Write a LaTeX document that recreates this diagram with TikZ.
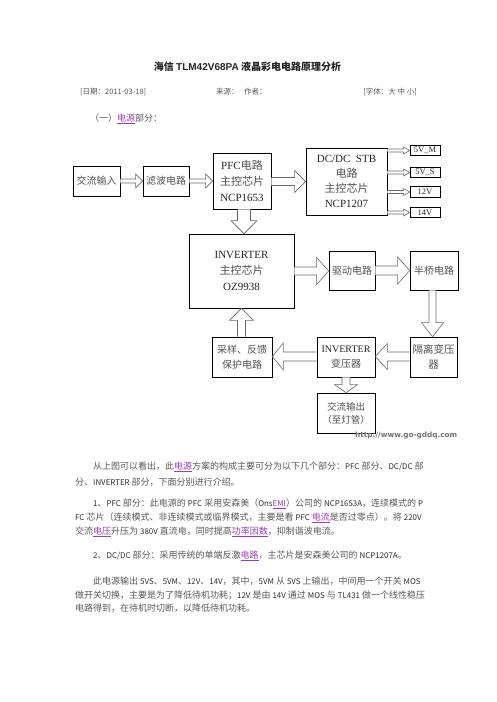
\documentclass[tikz,border=0pt]{standalone}
\usepackage{fontspec}
\setmainfont{Liberation Serif}
\newfontfamily\cjk{Noto Sans CJK SC}
\newfontfamily\arialf{Liberation Sans}
\newfontfamily\wmfont{DejaVu Sans}
\usetikzlibrary{calc}
\definecolor{txt}{HTML}{5A5A5A}
\definecolor{lnkc}{HTML}{9A3DB8}
\definecolor{arr}{HTML}{6A6A6A}
\newcommand\zh[1]{{\cjk\color{black!68}#1}}
\newcommand\lt[1]{{\fontsize{7.9}{9}\selectfont\color{black!82}#1}}
\newcommand\lnk[1]{{\color{lnkc}\underline{#1}}}
\newcommand\harrow[6]{%
 \coordinate (s) at (#1 |- 0,#3);
 \coordinate (t) at (#2 |- 0,#3);
 \draw[barrow] ($(s)+(0,-#4)$) -- ($(t)+({-(#6)},-#4)$) -- ($(t)+({-(#6)},-#5)$) -- (t) -- ($(t)+({-(#6)},#5)$) -- ($(t)+({-(#6)},#4)$) -- ($(s)+(0,#4)$);
}
\newcommand\varrow[6]{%
 \coordinate (s) at (#1 -| #3,0);
 \coordinate (t) at (#2 -| #3,0);
 \draw[barrow] ($(s)+(-#4,0)$) -- ($(t)+(-#4,{-(#6)})$) -- ($(t)+(-#5,{-(#6)})$) -- (t) -- ($(t)+(#5,{-(#6)})$) -- ($(t)+(#4,{-(#6)})$) -- ($(s)+(#4,0)$);
}
\tikzset{
 box/.style={draw=black, line width=0.7pt, inner sep=0pt, align=center, text=black!85},
 barrow/.style={draw=arr, line width=0.6pt, fill=white, line join=miter},
 body/.style={anchor=west, inner sep=0pt, font=\cjk\fontsize{9}{11}\selectfont, text=txt},
 small/.style={box, minimum width=30pt, minimum height=10.5pt, font=\fontsize{8.5}{9}\selectfont},
}
\begin{document}
\begin{tikzpicture}[x=1pt,y=-1pt]
\fill[white] (0,0) rectangle (496,702);
\useasboundingbox (0,0) rectangle (496,702);

% header
\node[font=\cjk\bfseries\fontsize{10}{12}\selectfont, text=black!85] (title) at (247.5,67) {海信 {\arialf\bfseries TLM42V68PA} 液晶彩电电路原理分析};
\node[anchor=west, inner sep=0pt, font=\cjk\fontsize{7.5}{9}\selectfont, text=txt] (date) at (80,92) {[日期：2011-03-18]};
\node[anchor=west, inner sep=0pt, font=\cjk\fontsize{7.5}{9}\selectfont, text=txt] (src) at (216,92) {来源：};
\node[anchor=west, inner sep=0pt, font=\cjk\fontsize{7.5}{9}\selectfont, text=txt] (auth) at (244,92) {作者：};
\node[anchor=east, inner sep=0pt, font=\cjk\fontsize{7.5}{9}\selectfont, text=txt] (fsz) at (417,92) {[字体：大 中 小]};
\node[body] (sec) at (90,119) {（一）\lnk{电源}部分：};

% diagram
\node[box, minimum width=47pt, minimum height=30pt, font=\fontsize{10}{12}\selectfont] (in) at (96.5,181) {\zh{交流输入}};
\node[box, minimum width=46pt, minimum height=30pt, font=\fontsize{10}{12}\selectfont] (flt) at (166,181) {\zh{滤波电路}};
\node[box, minimum width=58pt, minimum height=56pt, font=\fontsize{11}{16}\selectfont] (pfc) at (242,181) {PFC\zh{电路}\\\zh{主控芯片}\\NCP1653};
\node[box, minimum width=81pt, minimum height=67pt, font=\fontsize{11}{15}\selectfont] (dc) at (346.5,181.5) {DC/DC\ \ STB\\\zh{电路}\\\zh{主控芯片}\\NCP1207};
\node[small] (v1) at (425,150.5) {5V\_M};
\node[small] (v2) at (425,172.5) {5V\_S};
\node[small] (v3) at (425,192) {12V};
\node[small] (v4) at (425,212.5) {14V};
\node[box, minimum width=105pt, minimum height=74pt, font=\fontsize{11}{16}\selectfont] (inv) at (241.5,271) {INVERTER\\\zh{主控芯片}\\OZ9938};
\node[box, minimum width=46pt, minimum height=39pt, font=\fontsize{10}{12}\selectfont] (drv) at (352,270.5) {\zh{驱动电路}};
\node[box, minimum width=48pt, minimum height=39pt, font=\fontsize{10}{12}\selectfont] (hb) at (434,270.5) {\zh{半桥电路}};
\node[box, minimum width=47pt, minimum height=40pt, font=\fontsize{10.5}{15}\selectfont] (iso) at (433.5,357) {\zh{隔离变压}\\\zh{器}};
\node[box, minimum width=58pt, minimum height=40pt, font=\fontsize{10}{15}\selectfont] (itr) at (346,357) {INVERTER\\\zh{变压器}};
\node[box, minimum width=60pt, minimum height=40pt, font=\fontsize{10}{15}\selectfont] (smp) at (242,357) {\zh{采样、反馈}\\\zh{保护电路}};
\node[box, minimum width=58pt, minimum height=40pt, font=\fontsize{9.5}{13}\selectfont] (out) at (346,413) {\zh{交流输出}\\\zh{（至灯管）}};

% connectors
\harrow{in.east}{flt.west}{181}{2}{7}{7}
\harrow{flt.east}{pfc.west}{181}{2}{7}{7}
\harrow{pfc.east}{dc.west}{181.5}{4}{11}{11}
\harrow{dc.east}{v1.west}{150.5}{1.5}{3.5}{6}
\harrow{dc.east}{v2.west}{172.5}{1.5}{3.5}{6}
\harrow{dc.east}{v3.west}{192}{1.5}{3.5}{6}
\harrow{dc.east}{v4.west}{212.5}{1.5}{3.5}{6}
\varrow{pfc.south}{inv.north}{244}{6.5}{13}{13}
\harrow{inv.east}{drv.west}{271}{4}{13.5}{12}
\harrow{drv.east}{hb.west}{270.5}{4.5}{13.5}{12}
\varrow{hb.south}{iso.north}{432.5}{3.5}{11}{14}
\harrow{iso.west}{itr.east}{356.5}{4.5}{13}{-12}
\harrow{itr.west}{smp.east}{356.5}{4.5}{13.5}{-11}
\varrow{smp.north}{inv.south}{241.5}{4}{12}{-12}
\varrow{itr.south}{out.north}{346}{4}{11.5}{8}

\node[anchor=west, inner sep=0pt, font=\wmfont\bfseries\fontsize{7.3}{8}\selectfont, text=black!55] (wm) at (355,436) {http://www.go-gddq.com};

% body text
\node[body] (p1a) at (93,467) {从上图可以看出，此\lnk{电源}方案的构成主要可分为以下几个部分：\lt{PFC} 部分、\lt{DC/DC} 部};
\node[body] (p1b) at (75,482) {分、\lt{INVERTER} 部分，下面分别进行介绍。};
\node[body] (p2a) at (93,504) {\lt{1}、\lt{PFC} 部分：此电源的 \lt{PFC} 采用安森美（\lt{Ons}\lnk{\lt{\color{lnkc}EMI}}）公司的 \lt{NCP1653A}，连续模式的 \lt{P}};
\node[body] (p2b) at (75,518) {\lt{FC} 芯片（连续模式、非连续模式或临界模式，主要是看 \lt{PFC} \lnk{电流}是否过零点）。将 \lt{220V}};
\node[body] (p2c) at (75,532) {交流\lnk{电压}升压为 \lt{380V} 直流电，同时提高\lnk{功率因数}，抑制谐波电流。};
\node[body] (p3) at (93,556) {\lt{2}、\lt{DC/DC} 部分：采用传统的单端反激\lnk{电路}，主芯片是安森美公司的 \lt{NCP1207A}。};
\node[body] (p4a) at (93,581) {此电源输出 \lt{5VS}、\lt{5VM}、\lt{12V}、\lt{14V}，其中，\lt{5VM} 从 \lt{5VS} 上输出，中间用一个开关 \lt{MOS}};
\node[body] (p4b) at (75,595) {做开关切换，主要是为了降低待机功耗；\lt{12V} 是由 \lt{14V} 通过 \lt{MOS} 与 \lt{TL431} 做一个线性稳压};
\node[body] (p4c) at (75,608) {电路得到，在待机时切断，以降低待机功耗。};
\end{tikzpicture}
\end{document}
